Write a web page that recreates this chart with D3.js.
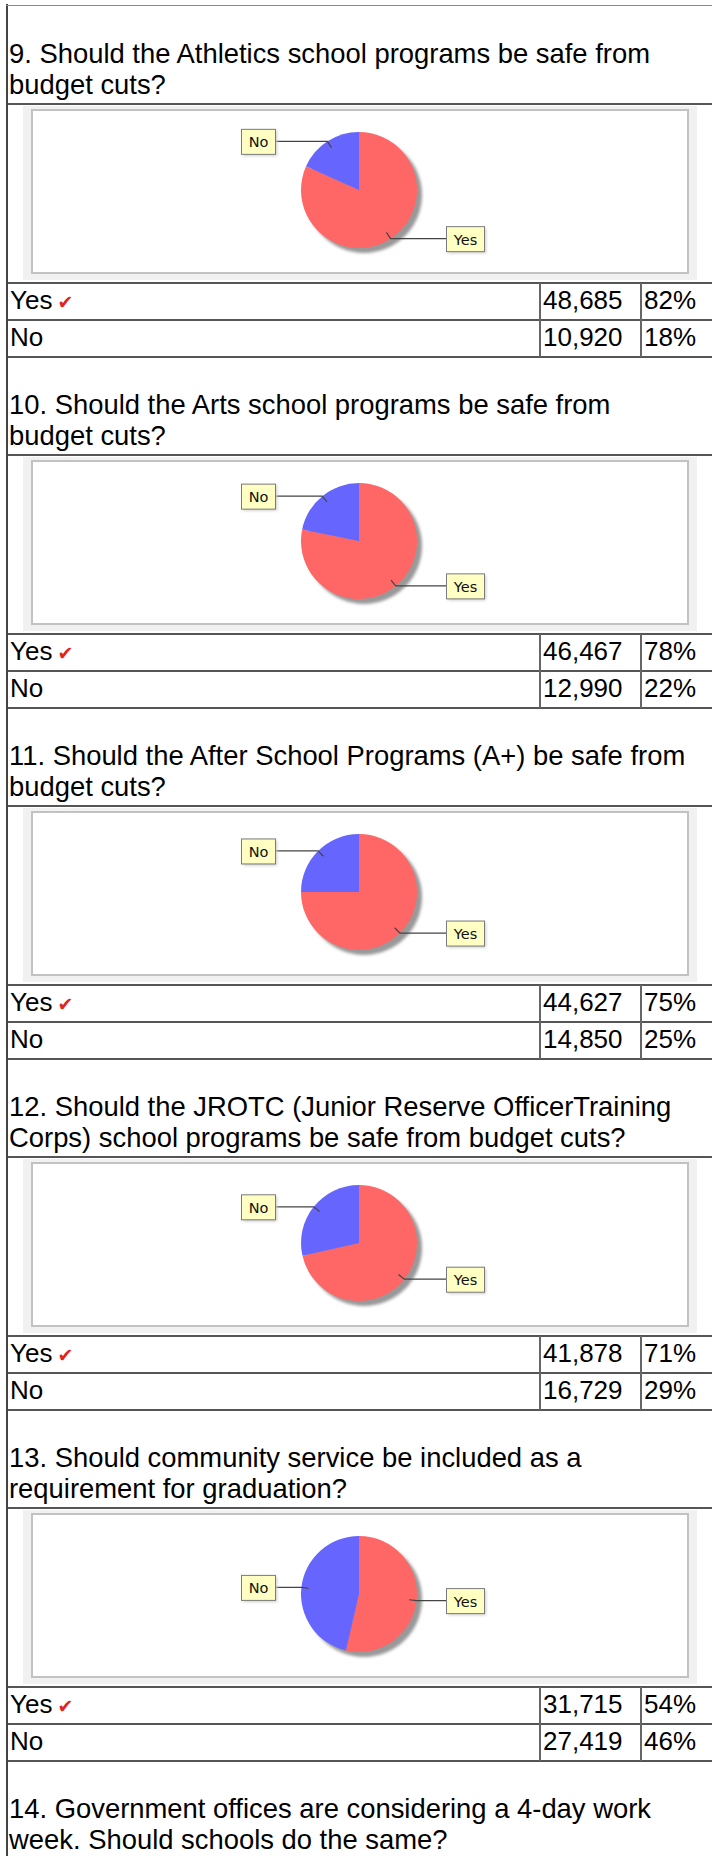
<!DOCTYPE html>
<html><head><meta charset="utf-8">
<script src="https://cdn.jsdelivr.net/npm/d3@7"></script>
<style>html,body{margin:0;padding:0;background:#fff;} svg{display:block;}</style>
</head><body>
<script>
// ---- data ----
const questionLines = [
  ["9. Should the Athletics school programs be safe from", "budget cuts?"],
  ["10. Should the Arts school programs be safe from", "budget cuts?"],
  ["11. Should the After School Programs (A+) be safe from", "budget cuts?"],
  ["12. Should the JROTC (Junior Reserve OfficerTraining", "Corps) school programs be safe from budget cuts?"],
  ["13. Should community service be included as a", "requirement for graduation?"],
  ["14. Government offices are considering a 4-day work", "week. Should schools do the same?"]
];
const answers = ["Yes", "No"];
const yesCounts = [48685, 46467, 44627, 41878, 31715];
const noCounts  = [10920, 12990, 14850, 16729, 27419];
const yesPct = [82, 78, 75, 71, 54];
const noPct  = [18, 22, 25, 29, 46];
const sliceColors = ["#ff6666", "#6666ff"];

// ---- drawing ----
const W = 712, H = 1856;
const font = "'Liberation Sans', Helvetica, Arial, sans-serif";
const svg = d3.select("body").append("svg").attr("width", W).attr("height", H);

const sectionY = d3.scaleLinear().domain([0, 1]).range([0, 351]);
const rowY = d3.scaleBand().domain(answers).range([283, 357]);
const colX = d3.scaleOrdinal().domain(["label", "count", "pct"]).range([10, 543, 644]);
const fmt = d3.format(",");
const R = 58, CX = 359, CY = 190;
const pie = d3.pie().sort(null).value(d => d.v);
const arc = d3.arc().innerRadius(0).outerRadius(R);

const defs = svg.append("defs");
defs.append("filter").attr("id", "blur").attr("x", "-20%").attr("y", "-20%").attr("width", "140%").attr("height", "140%")
  .append("feGaussianBlur").attr("stdDeviation", 1.5);

// outer borders
svg.append("line").attr("x1", 7).attr("x2", 7).attr("y1", 4).attr("y2", H)
  .attr("stroke", "#444").attr("stroke-width", 2);
svg.append("line").attr("x1", 6).attr("x2", W).attr("y1", 5.5).attr("y2", 5.5)
  .attr("stroke", "#8a8a8a").attr("stroke-width", 1);

questionLines.forEach((lines, i) => {
  const g = svg.append("g").attr("transform", `translate(0,${sectionY(i)})`);
  const t = g.append("text").attr("font-family", font).attr("font-size", 27.4).attr("fill", "#000");
  lines.forEach((l, k) => t.append("tspan").attr("x", 9).attr("y", 62.5 + k * 31).text(l));
  if (i >= yesCounts.length) return;

  // line below question
  g.append("line").attr("x1", 8).attr("x2", W).attr("y1", 104).attr("y2", 104)
    .attr("stroke", "#555").attr("stroke-width", 2);

  // chart frame
  g.append("rect").attr("x", 23).attr("y", 106).attr("width", 674).attr("height", 174).attr("fill", "#f1f1f1");
  g.append("rect").attr("x", 32).attr("y", 110).attr("width", 656).attr("height", 163)
    .attr("fill", "#fff").attr("stroke", "#c2c2c2").attr("stroke-width", 2);

  const data = [{k: "Yes", v: yesCounts[i]}, {k: "No", v: noCounts[i]}];
  const arcs = pie(data);
  const pg = g.append("g").attr("transform", `translate(${CX},${CY})`);
  pg.append("circle").attr("cx", 5).attr("cy", 5).attr("r", R).attr("fill", "#999").attr("filter", "url(#blur)");
  pg.selectAll("path.slice").data(arcs).join("path").attr("class", "slice")
    .attr("d", arc).attr("fill", (d, j) => sliceColors[j]);

  // labels
  arcs.forEach(d => {
    const a = (d.startAngle + d.endAngle) / 2;
    const ex = CX + R * Math.sin(a), ey = CY - R * Math.cos(a);
    const ix = CX + 0.87 * R * Math.sin(a), iy = CY - 0.87 * R * Math.cos(a);
    const left = Math.sin(a) < 0;
    const label = d.data.k;
    const tw = label === "Yes" ? 38 : 34, th = 25;
    const bx = left ? CX - R - 26 - tw : CX + R + 29;
    const by = ey - th / 2;
    const lx = left ? bx + tw : bx;
    g.append("polyline").attr("points", `${lx},${ey} ${ex},${ey} ${ix},${iy}`)
      .attr("fill", "none").attr("stroke", "#444").attr("stroke-width", 1.2);
    g.append("rect").attr("x", bx + 2).attr("y", by + 2).attr("width", tw).attr("height", th)
      .attr("fill", "#cccccc").attr("filter", "url(#blur)");
    g.append("rect").attr("x", bx + 0.5).attr("y", by + 0.5).attr("width", tw).attr("height", th)
      .attr("fill", "#ffffc4").attr("stroke", "#7a7a7a").attr("stroke-width", 1);
    g.append("text").attr("x", bx + tw / 2 + 0.5).attr("y", by + th / 2 + 6)
      .attr("text-anchor", "middle").attr("font-family", "'DejaVu Sans', Tahoma, sans-serif")
      .attr("font-size", 14.5).attr("fill", "#111").text(label);
  });

  // answers table
  const rows = [
    {k: "Yes", c: yesCounts[i], p: yesPct[i]},
    {k: "No", c: noCounts[i], p: noPct[i]}
  ];
  [283, 320, 357].forEach(y => g.append("line").attr("x1", 8).attr("x2", W).attr("y1", y).attr("y2", y)
    .attr("stroke", "#555").attr("stroke-width", 2));
  [540, 641].forEach(x => g.append("line").attr("x1", x).attr("x2", x).attr("y1", 283).attr("y2", 357)
    .attr("stroke", "#666").attr("stroke-width", 2));
  rows.forEach(r => {
    const yb = rowY(r.k) + rowY.bandwidth() / 2 + 7.5;
    const tl = g.append("text").attr("font-family", font).attr("font-size", 26).attr("x", colX("label")).attr("y", yb).text(r.k);
    if (r.k === "Yes") tl.append("tspan").attr("dx", 5).attr("font-family", "'DejaVu Sans', sans-serif")
      .attr("font-size", 19).attr("fill", "#e3261d").text("✔");
    g.append("text").attr("font-family", font).attr("font-size", 26).attr("x", colX("count")).attr("y", yb).text(fmt(r.c));
    g.append("text").attr("font-family", font).attr("font-size", 26).attr("x", colX("pct")).attr("y", yb).text(r.p + "%");
  });
});
</script>
</body></html>
